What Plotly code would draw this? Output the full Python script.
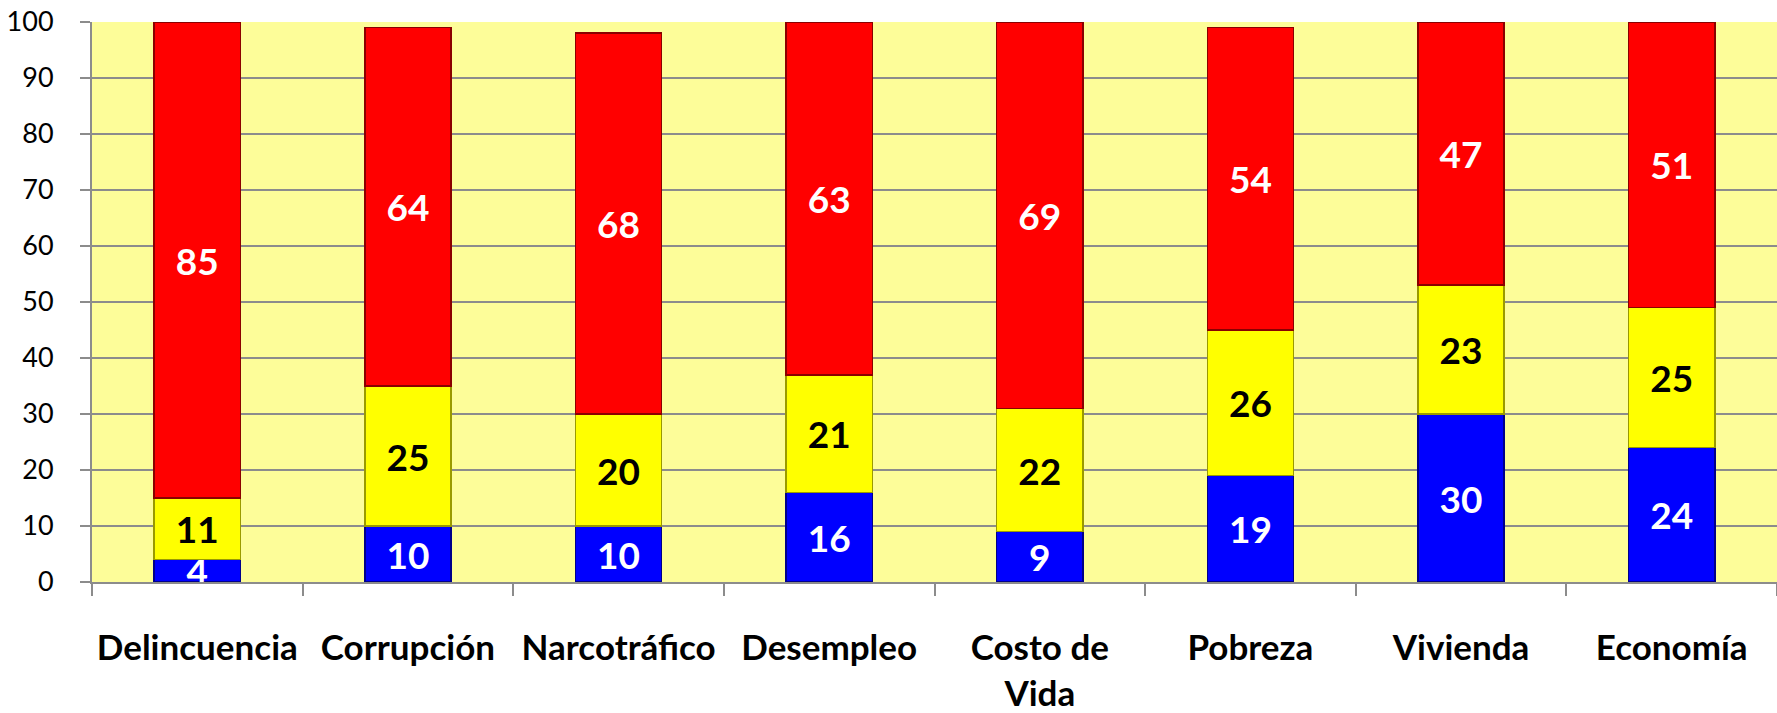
import plotly.graph_objects as go

categories = ["Delincuencia", "Corrupción", "Narcotráfico", "Desempleo",
              "Costo de<br>Vida", "Pobreza", "Vivienda", "Economía"]
blue_vals = [4, 10, 10, 16, 9, 19, 30, 24]
yellow_vals = [11, 25, 20, 21, 22, 26, 23, 25]
red_vals = [85, 64, 68, 63, 69, 54, 47, 51]
y_ticks = list(range(0, 101, 10))

FONT = "Lato"

def bar(vals, color, line, textcolor):
    return go.Bar(
        x=categories, y=vals,
        marker=dict(color=color, line=dict(color=line, width=1.5)),
        text=[str(v) for v in vals],
        textposition="inside", insidetextanchor="middle",
        textangle=0, constraintext="none",
        textfont=dict(family=FONT, size=37, color=textcolor, weight="bold"),
        width=0.41, hoverinfo="skip",
    )

fig = go.Figure([
    bar(blue_vals, "#0000FF", "#00008A", "white"),
    bar(yellow_vals, "#FFFF00", "#9A9A00", "black"),
    bar(red_vals, "#FF0000", "#8A0000", "white"),
])

fig.update_layout(
    barmode="stack",
    width=1777, height=713,
    margin=dict(l=92, r=0, t=22, b=131),
    paper_bgcolor="white",
    plot_bgcolor="#FDFD99",
    showlegend=False,
)
fig.update_yaxes(
    range=[0, 100], tickvals=y_ticks,
    showgrid=True, gridcolor="#8C8C8C", gridwidth=2,
    ticks="outside", ticklen=10, tickcolor="#8C8C8C", tickwidth=2,
    showline=True, linecolor="#8C8C8C", linewidth=2,
    ticklabelstandoff=21, automargin=False, ticklabeloverflow="allow",
    tickfont=dict(family=FONT, size=27, color="black"),
    zeroline=False,
)
fig.update_xaxes(
    tickson="boundaries", tickangle=0,
    ticks="outside", ticklen=12, tickcolor="#8C8C8C", tickwidth=2,
    showline=True, linecolor="#8C8C8C", linewidth=2,
    ticklabelstandoff=34, automargin=False, ticklabeloverflow="allow",
    tickfont=dict(family=FONT, size=35, color="black", weight="bold"),
    showgrid=False,
)

fig.write_html(
    "out.html",
    config={"displayModeBar": False},
    post_script="document.body.style.margin='0';document.body.style.overflow='hidden';",
)
